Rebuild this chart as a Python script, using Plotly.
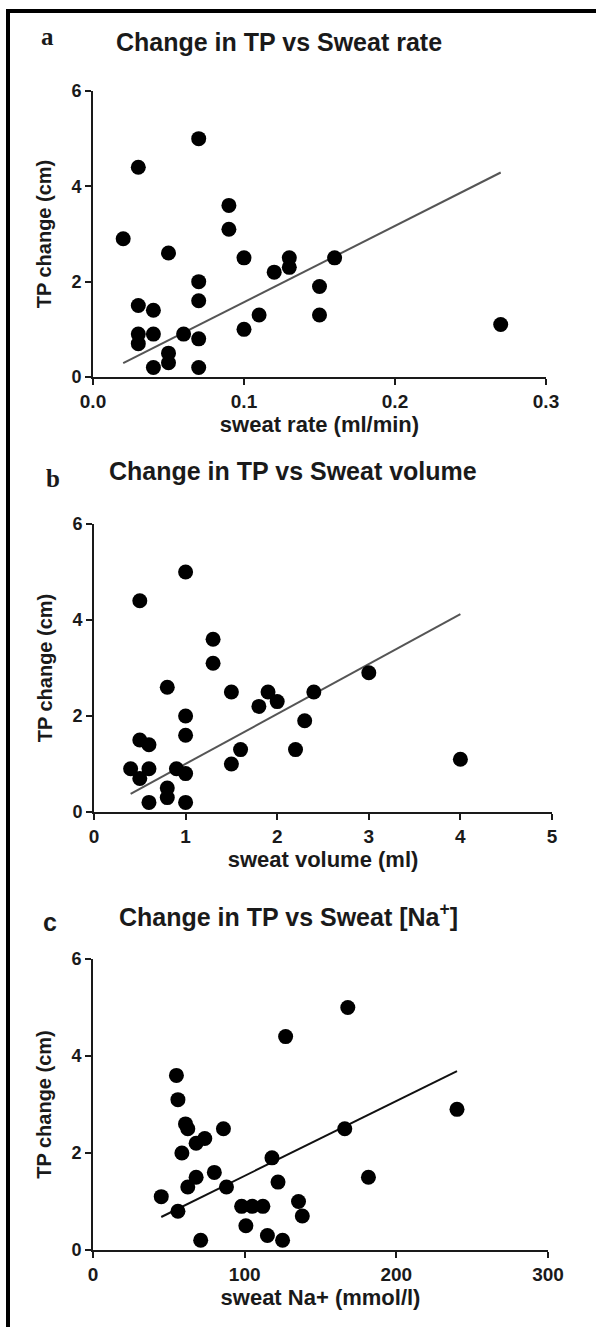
import plotly.graph_objects as go

W, H = 596, 1327

# ---- Panel a: sweat rate ----
rate_x = [0.07, 0.03, 0.02, 0.05, 0.09, 0.09, 0.10, 0.07, 0.07, 0.12, 0.13, 0.13, 0.15, 0.16,
          0.03, 0.04, 0.11, 0.15, 0.03, 0.03, 0.04, 0.04, 0.05, 0.05, 0.06, 0.07, 0.07, 0.10, 0.27]
rate_y = [5.0, 4.4, 2.9, 2.6, 3.6, 3.1, 2.5, 2.0, 1.6, 2.2, 2.5, 2.3, 1.9, 2.5,
          1.5, 1.4, 1.3, 1.3, 0.9, 0.7, 0.9, 0.2, 0.5, 0.3, 0.9, 0.8, 0.2, 1.0, 1.1]
fit_a_x = [0.02, 0.27]
fit_a_y = [0.29, 4.29]

# ---- Panel b: sweat volume ----
vol_x = [1.0, 0.5, 1.3, 1.3, 0.8, 1.5, 1.9, 1.8, 2.0, 2.4, 2.3, 2.2, 1.0, 1.0, 0.5,
         0.6, 1.5, 1.6, 0.4, 0.6, 0.5, 0.9, 1.0, 0.8, 0.8, 0.6, 1.0, 3.0, 4.0]
vol_y = [5.0, 4.4, 3.6, 3.1, 2.6, 2.5, 2.5, 2.2, 2.3, 2.5, 1.9, 1.3, 2.0, 1.6, 1.5,
         1.4, 1.0, 1.3, 0.9, 0.9, 0.7, 0.9, 0.8, 0.5, 0.3, 0.2, 0.2, 2.9, 1.1]
fit_b_x = [0.4, 4.0]
fit_b_y = [0.38, 4.12]

# ---- Panel c: sweat Na+ ----
na_x = [127, 168, 55, 56, 61, 62.5, 58.6, 68, 73.7, 86, 118, 166, 68, 80, 62.5,
        88, 45, 56, 122, 98, 105, 112, 100.8, 71, 115, 125, 135.5, 138, 181.6, 240]
na_y = [4.4, 5.0, 3.6, 3.1, 2.6, 2.5, 2.0, 2.2, 2.3, 2.5, 1.9, 2.5, 1.5, 1.6, 1.3,
        1.3, 1.1, 0.8, 1.4, 0.9, 0.9, 0.9, 0.5, 0.2, 0.3, 0.2, 1.0, 0.7, 1.5, 2.9]
fit_c_x = [45, 240]
fit_c_y = [0.68, 3.69]

y_ticks = [0, 2, 4, 6]

FONT = "Liberation Sans, Arial, sans-serif"
SERIF = "Liberation Serif, Times New Roman, serif"
INK = "#1a1a1a"

fig = go.Figure()

panels = [
    dict(x=rate_x, y=rate_y, fx=fit_a_x, fy=fit_a_y, line="#555555",
         xr=[0, 0.3], xt=[0, 0.1, 0.2, 0.3], fmt=".1f",
         dom_x=(93, 546), dom_y=(91, 377), xtitle="sweat rate (ml/min)"),
    dict(x=vol_x, y=vol_y, fx=fit_b_x, fy=fit_b_y, line="#555555",
         xr=[0, 5], xt=[0, 1, 2, 3, 4, 5], fmt="d",
         dom_x=(94, 552), dom_y=(524, 812), xtitle="sweat volume (ml)"),
    dict(x=na_x, y=na_y, fx=fit_c_x, fy=fit_c_y, line="#111111",
         xr=[0, 300], xt=[0, 100, 200, 300], fmt="d",
         dom_x=(93, 548), dom_y=(959, 1250), xtitle="sweat Na+ (mmol/l)"),
]

for i, p in enumerate(panels, start=1):
    xa = "x" if i == 1 else f"x{i}"
    ya = "y" if i == 1 else f"y{i}"
    fig.add_trace(go.Scatter(x=p["fx"], y=p["fy"], mode="lines",
                             line=dict(color=p["line"], width=2),
                             xaxis=xa, yaxis=ya, showlegend=False, hoverinfo="skip"))
    fig.add_trace(go.Scatter(x=p["x"], y=p["y"], mode="markers",
                             marker=dict(color="black", size=15),
                             xaxis=xa, yaxis=ya, showlegend=False, cliponaxis=False))
    xkey = "xaxis" if i == 1 else f"xaxis{i}"
    ykey = "yaxis" if i == 1 else f"yaxis{i}"
    fig.update_layout(**{
        xkey: dict(domain=[p["dom_x"][0] / W, p["dom_x"][1] / W], anchor=ya,
                   range=p["xr"], tickvals=p["xt"], tickformat=p["fmt"],
                   showline=True, linecolor=INK, linewidth=2,
                   ticks="outside", ticklen=6, tickwidth=2, tickcolor=INK,
                   showgrid=False, zeroline=False, automargin=False,
                   tickfont=dict(family=FONT, size=19, color=INK, weight="bold"),
                   title=dict(text=p["xtitle"], standoff=6,
                              font=dict(family=FONT, size=22, color=INK, weight="bold"))),
        ykey: dict(domain=[1 - p["dom_y"][1] / H, 1 - p["dom_y"][0] / H], anchor=xa,
                   range=[0, 6], tickvals=y_ticks,
                   showline=True, linecolor=INK, linewidth=2,
                   ticks="outside", ticklen=6, tickwidth=2, tickcolor=INK,
                   showgrid=False, zeroline=False, automargin=False,
                   tickfont=dict(family=FONT, size=18, color=INK, weight="bold"),
                   title=dict(text="TP change (cm)", standoff=14,
                              font=dict(family=FONT, size=20, color=INK, weight="bold"))),
    })

titles = [
    ("Change in TP vs Sweat rate", 279, 42, "a", 47, 36, SERIF),
    ("Change in TP vs Sweat volume", 293, 471, "b", 53, 478, SERIF),
    ("Change in TP vs Sweat [Na<sup>+</sup>]", 288, 915, "c", 50, 922, FONT),
]
for t, tx, ty, lab, lx, ly, lfont in titles:
    fig.add_annotation(text=t, x=tx / W, y=1 - ty / H, xref="paper", yref="paper",
                       showarrow=False, xanchor="center", yanchor="middle",
                       font=dict(family=FONT, size=25, color=INK, weight="bold"))
    fig.add_annotation(text=lab, x=lx / W, y=1 - ly / H, xref="paper", yref="paper",
                       showarrow=False, xanchor="center", yanchor="middle",
                       font=dict(family=lfont, size=25, color=INK, weight="bold"))

# outer frame
fig.add_shape(type="rect", xref="paper", yref="paper",
              x0=8 / W, x1=1.02, y0=-0.02, y1=1 - 11 / H,
              line=dict(color="black", width=4), fillcolor="rgba(0,0,0,0)")

fig.update_layout(width=W, height=H, margin=dict(l=0, r=0, t=0, b=0),
                  paper_bgcolor="white", plot_bgcolor="white", showlegend=False)

fig.write_html("out.html")
